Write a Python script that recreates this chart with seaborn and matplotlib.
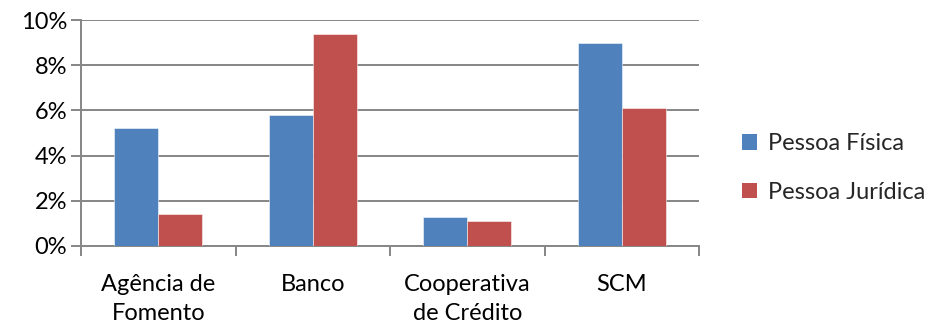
import matplotlib
matplotlib.use("Agg")
import matplotlib.pyplot as plt
from matplotlib.ticker import FixedLocator, PercentFormatter
import seaborn as sns
import pandas as pd

categories = ["Agência de\nFomento", "Banco", "Cooperativa\nde Crédito", "SCM"]
series_names = ["Pessoa Física", "Pessoa Jurídica"]
pessoa_fisica = [5.2, 5.8, 1.3, 9.0]
pessoa_juridica = [1.4, 9.4, 1.1, 6.1]
y_ticks = [0, 2, 4, 6, 8, 10]

df = pd.DataFrame({
    "categoria": categories * 2,
    "tipo": [series_names[0]] * len(categories) + [series_names[1]] * len(categories),
    "valor": pessoa_fisica + pessoa_juridica,
})

sns.set_theme(style="white")
plt.rcParams["font.family"] = ["Lato", "DejaVu Sans"]

grid_color = "#868686"
fs = 17
fig = plt.figure(figsize=(9.26, 3.24), dpi=100)
ax = fig.add_axes([0.0875, 0.241, 0.6675, 0.697])

sns.barplot(data=df, x="categoria", y="valor", hue="tipo",
            palette=["#4F81BD", "#C0504D"], saturation=1, width=0.57, gap=0,
            edgecolor=(1, 1, 1, 0.6), linewidth=0.6, ax=ax, zorder=3)

ax.set_ylim(0, 10)
ax.set_xlim(-0.5, len(categories) - 0.5)
ax.yaxis.set_major_locator(FixedLocator(y_ticks))
ax.yaxis.set_major_formatter(PercentFormatter(decimals=0))
ax.grid(axis="y", color=grid_color, linewidth=1.4, zorder=0)
ax.set_axisbelow(True)

for side in ["top", "right"]:
    ax.spines[side].set_visible(False)
for side in ["left", "bottom"]:
    ax.spines[side].set_color(grid_color)
    ax.spines[side].set_linewidth(1.4)

ax.tick_params(axis="y", which="major", length=7, width=1.4, color=grid_color,
               labelsize=fs, pad=3, left=True)
ax.tick_params(axis="x", which="major", length=0, labelsize=fs, pad=20)
ax.set_xticks([i - 0.5 for i in range(len(categories) + 1)], minor=True)
ax.tick_params(axis="x", which="minor", length=7, width=1.4, color=grid_color,
               bottom=True)
for lbl in ax.get_xticklabels():
    lbl.set_linespacing(1.5)
for lbl in ax.get_xticklabels() + ax.get_yticklabels():
    lbl.set_color("black")

ax.set_xlabel("")
ax.set_ylabel("")
leg = ax.legend(loc="center left", bbox_to_anchor=(1.07, 0.345), frameon=False,
                borderaxespad=0, borderpad=0,
                fontsize=fs, handlelength=0.62, handleheight=0.62,
                handletextpad=0.45, labelspacing=1.15)
for h in leg.legend_handles:
    h.set_edgecolor("none")

fig.savefig("out.png", dpi=100)
